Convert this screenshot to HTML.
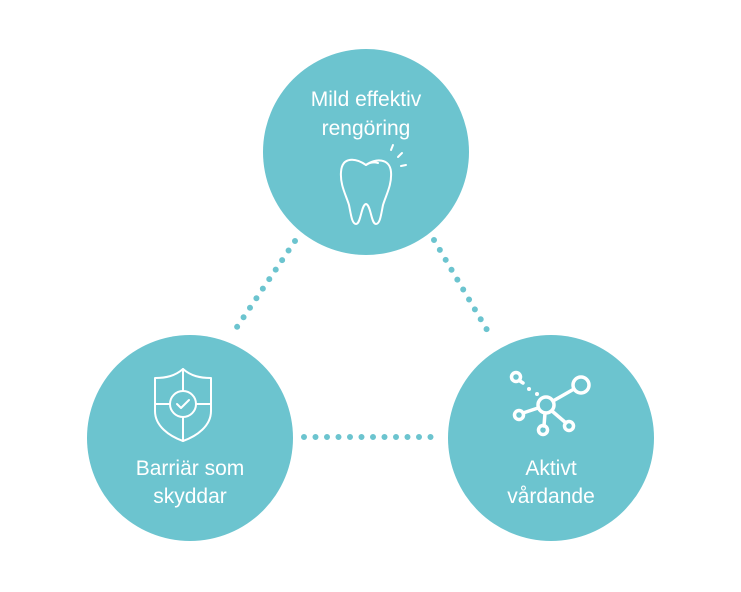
<!DOCTYPE html>
<html><head><meta charset="utf-8"><style>
html,body{margin:0;padding:0;background:#fff;}
svg{display:block}
text{font-family:"Liberation Sans",sans-serif;fill:#fff;font-size:21px;text-anchor:middle}
</style></head><body>
<svg width="741" height="592" viewBox="0 0 741 592">
<g fill="#6cc4cf">
<circle cx="366" cy="152" r="103"/>
<circle cx="190" cy="438" r="103"/>
<circle cx="551" cy="438" r="103"/>
</g>
<g stroke="#6cc4cf" stroke-width="6" stroke-linecap="round" stroke-dasharray="0 11.5" fill="none">
<line x1="295" y1="241" x2="237" y2="327"/>
<line x1="434" y1="240" x2="490" y2="335"/>
<line x1="304" y1="437" x2="437" y2="437"/>
</g>
<text x="366" y="106">Mild effektiv</text>
<text x="366" y="135">rengöring</text>
<text x="190" y="475">Barriär som</text>
<text x="190" y="503">skyddar</text>
<text x="551" y="475">Aktivt</text>
<text x="551" y="503">vårdande</text>
<g fill="none" stroke="#fff" stroke-width="2" stroke-linecap="round" stroke-linejoin="round">
<path d="M366 165 C356 158 342 156 341 172 C340 185 346 195 349 205 C351 215 352 224 356 224 C361 224 361 205 366 204 C371 205 371 224 376 224 C380 224 381 215 383 205 C386 195 392 185 391 172 C390 158 375 158 366 165"/>
<path d="M366 165 C370 162 375 162 378 163"/>
<line x1="391" y1="150" x2="393" y2="145"/>
<line x1="398" y1="157" x2="402" y2="153"/>
<line x1="401" y1="166" x2="406" y2="165"/>
<path d="M183 369 C175 376 166 378 155 378 L155 411 C155 426 169 436 183 441 C197 436 211 426 211 411 L211 378 C200 378 191 376 183 369 Z"/>
<line x1="183" y1="369" x2="183" y2="391"/>
<line x1="183" y1="418" x2="183" y2="441"/>
<line x1="155" y1="404" x2="170" y2="404"/>
<line x1="196" y1="404" x2="211" y2="404"/>
<circle cx="183" cy="404" r="13"/>
<path d="M177 404 L181 408 L189 400"/>
</g>
<g fill="none" stroke="#fff" stroke-width="3.5" stroke-linecap="round">
<circle cx="546" cy="405" r="8"/>
<circle cx="581" cy="385" r="8"/>
<circle cx="519" cy="415" r="4.5"/>
<circle cx="543" cy="430" r="4.5"/>
<circle cx="569" cy="426" r="4.5"/>
<circle cx="516" cy="377" r="4.5"/>
<line x1="553" y1="401" x2="574" y2="389"/>
<line x1="538" y1="408" x2="523" y2="413"/>
<line x1="545" y1="413" x2="544" y2="426"/>
<line x1="552" y1="411" x2="566" y2="423"/>
<line x1="520" y1="381" x2="523" y2="383"/>
</g>
<circle cx="529" cy="389" r="2" fill="#fff"/>
<circle cx="537" cy="394" r="2" fill="#fff"/>
</svg>
</body></html>
